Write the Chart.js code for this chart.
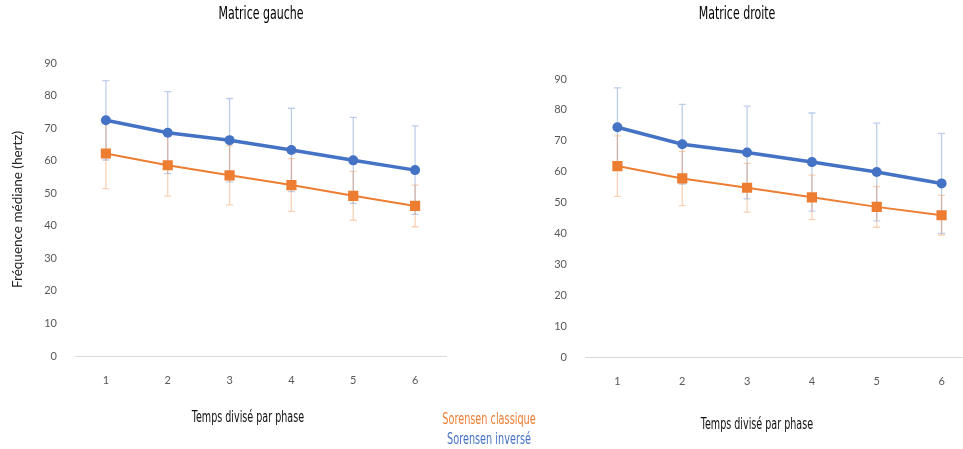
<!DOCTYPE html>
<html lang="fr">
<head>
<meta charset="utf-8">
<script src="https://cdn.jsdelivr.net/npm/chart.js@4"></script>
<style>
html, body { margin: 0; padding: 0; background: #fff; overflow: hidden; }
#wrap { position: relative; width: 963px; height: 449px; overflow: hidden; background: #fff; }
#gauche { position: absolute; left: 0; top: 0; }
#droite { position: absolute; left: 483px; top: 0; }
.leg { position: absolute; left: 489px; transform: translateX(-50%) scaleX(0.72); white-space: nowrap;
       font: 15px "DejaVu Sans Condensed", "Liberation Sans Narrow", sans-serif; line-height: 18px; }
</style>
</head>
<body>
<div id="wrap">
  <canvas id="gauche" width="480" height="449"></canvas>
  <canvas id="droite" width="501" height="449"></canvas>
  <div class="leg" style="top:410px; color:#ED7D31;">Sorensen classique</div>
  <div class="leg" style="top:430px; color:#4472C4;">Sorensen inversé</div>
</div>
<script>
// donnees
const categories = ['1', '2', '3', '4', '5', '6'];
const seriesNames = ['Sorensen classique', 'Sorensen inversé'];
const yMin = 0, yMax = 90, yStep = 10;

// Matrice gauche
const gaucheClassique = [62.2, 58.6, 55.5, 52.5, 49.2, 46.1];
const gaucheClassiqueErr = [10.8, 9.5, 9.1, 8.1, 7.5, 6.4];
const gaucheInverse = [72.4, 68.6, 66.3, 63.3, 60.1, 57.1];
const gaucheInverseErr = [12.2, 12.6, 12.8, 12.8, 13.2, 13.6];

// Matrice droite
const droiteClassique = [61.8, 57.8, 54.8, 51.7, 48.6, 45.9];
const droiteClassiqueErr = [9.8, 8.8, 7.9, 7.2, 6.6, 6.4];
const droiteInverse = [74.4, 68.9, 66.2, 63.1, 59.9, 56.2];
const droiteInverseErr = [12.7, 12.9, 15.0, 15.9, 15.8, 16.2];

const ORANGE = '#ED7D31';
const BLUE = '#4472C4';
const narrow = '"DejaVu Sans Condensed", "Liberation Sans Narrow", sans-serif';

// barres d'erreur (dessinees sous les lignes)
const errorBars = {
  id: 'errorBars',
  beforeDatasetsDraw(chart) {
    const ctx = chart.ctx;
    const y = chart.scales.y;
    chart.data.datasets.forEach((ds, i) => {
      const meta = chart.getDatasetMeta(i);
      ctx.save();
      ctx.strokeStyle = ds.errorColor;
      ctx.lineWidth = 1.3;
      meta.data.forEach((pt, j) => {
        const v = ds.data[j], e = ds.errors[j];
        const top = y.getPixelForValue(v + e);
        const bot = y.getPixelForValue(v - e);
        ctx.beginPath();
        ctx.moveTo(pt.x, top); ctx.lineTo(pt.x, bot);
        ctx.moveTo(pt.x - 3.5, top); ctx.lineTo(pt.x + 3.5, top);
        ctx.moveTo(pt.x - 3.5, bot); ctx.lineTo(pt.x + 3.5, bot);
        ctx.stroke();
      });
      ctx.restore();
    });
  }
};

// titres du panneau et de l'axe x (police etroite)
const panelTexts = {
  id: 'panelTexts',
  afterDraw(chart, args, opts) {
    const ctx = chart.ctx;
    opts.items.forEach(t => {
      ctx.save();
      ctx.textAlign = 'center';
      ctx.textBaseline = 'middle';
      ctx.font = t.font;
      ctx.fillStyle = t.color;
      ctx.translate(t.x, t.y);
      ctx.scale(t.sx, 1);
      ctx.fillText(t.text, 0, 0);
      ctx.restore();
    });
  }
};

function createPanel(canvas, title, classique, classiqueErr, inverse, inverseErr, cfg) {
  return new Chart(canvas, {
    type: 'line',
    data: {
      labels: categories,
      datasets: [{
        label: seriesNames[1],
        data: inverse,
        errors: inverseErr,
        errorColor: 'rgba(68,114,196,0.35)',
        borderColor: BLUE,
        backgroundColor: BLUE,
        borderWidth: 3.5,
        pointStyle: 'circle',
        pointRadius: 5,
        pointBorderWidth: 0,
        tension: 0
      }, {
        label: seriesNames[0],
        data: classique,
        errors: classiqueErr,
        errorColor: 'rgba(237,125,49,0.35)',
        borderColor: ORANGE,
        backgroundColor: ORANGE,
        borderWidth: 2,
        pointStyle: 'rect',
        pointRadius: 7.2,
        pointBorderWidth: 0,
        tension: 0
      }]
    },
    options: {
      responsive: false,
      animation: false,
      layout: { padding: { top: cfg.top, right: cfg.right, left: 0, bottom: 0 } },
      plugins: {
        legend: { display: false },
        tooltip: { enabled: false },
        panelTexts: {
          items: [
            { text: title, x: cfg.titleX, y: 15, font: '17px ' + narrow, color: '#000', sx: 0.72 },
            { text: 'Temps divisé par phase', x: cfg.xTitleX, y: cfg.xTitleY, font: '15px ' + narrow, color: '#111', sx: 0.71 }
          ]
        }
      },
      scales: {
        x: {
          offset: true,
          grid: { display: false },
          border: { display: true, color: '#D9D9D9', width: 1 },
          ticks: { color: '#595959', font: { family: 'Lato', size: 11 }, padding: 10 },
          afterFit: s => { s.height = cfg.xHeight; }
        },
        y: {
          min: yMin, max: yMax,
          grid: { display: false },
          border: { display: false },
          ticks: { stepSize: yStep, color: '#595959', font: { family: 'Lato', size: 11 }, padding: 10 },
          title: {
            display: cfg.yTitle,
            text: 'Fréquence médiane (hertz)',
            color: '#262626',
            font: { family: 'Lato', size: 13.5 },
            padding: { top: 10, bottom: 0 }
          },
          afterFit: s => { s.width = cfg.yWidth; }
        }
      }
    },
    plugins: [errorBars, panelTexts]
  });
}

createPanel(document.getElementById('gauche'), 'Matrice gauche',
  gaucheClassique, gaucheClassiqueErr, gaucheInverse, gaucheInverseErr,
  { top: 63, right: 34, yWidth: 75, xHeight: 93, yTitle: true, titleX: 261, xTitleX: 248, xTitleY: 418 });

createPanel(document.getElementById('droite'), 'Matrice droite',
  droiteClassique, droiteClassiqueErr, droiteInverse, droiteInverseErr,
  { top: 79, right: 10, yWidth: 102, xHeight: 92, yTitle: false, titleX: 254, xTitleX: 274, xTitleY: 425 });
</script>
</body>
</html>
